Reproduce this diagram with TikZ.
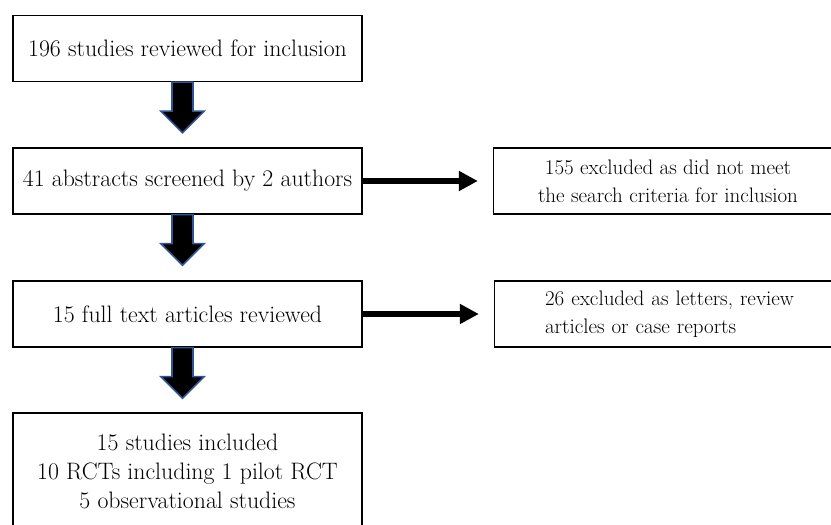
\documentclass[tikz,border=0pt]{standalone}
\usetikzlibrary{arrows.meta}
\definecolor{arrowblue}{RGB}{47,85,151}
\begin{document}
\begin{tikzpicture}[x=1pt,y=-1pt,
  box/.style={draw=black, line width=1.3pt, minimum width=349pt, minimum height=66pt,
    inner sep=0pt, align=center, font=\fontsize{23.8}{29}\selectfont},
  sidebox/.style={box, font=\fontsize{21}{28}\selectfont},
  downarrow/.style={fill=black, draw=arrowblue, line width=1.6pt, line join=miter},
  sidearrow/.style={line width=6.5pt, -{Triangle[length=19pt,width=19pt]}}]
\useasboundingbox (0,0) rectangle (831,525);
\fill[white] (0,0) rectangle (831,525);
\node[box] (b1) at (187.5,48.5) {196 studies reviewed for inclusion};
\node[box] (b2) at (187.5,181) {41 abstracts screened by 2 authors};
\node[box] (b3) at (187.5,314) {15 full text articles reviewed};
\node[box, minimum height=116pt] (b4) at (187.5,471) {15 studies included\\10 RCTs including 1 pilot RCT\\5 observational studies};
\node[sidebox] (r1) at (668,181) {155 excluded as did not meet\\the search criteria for inclusion};
\node[sidebox, text width=340pt, align=left] (r2) at (669,314) {\hspace*{46pt}26 excluded as letters, review\\\hspace*{46pt}articles or case reports};
\foreach \a/\b in {b1/b2, b2/b3, b3/b4}{
  \draw[downarrow] ([xshift=-5pt]\a.south) ++(-10.5,0) -- ++(0,29) -- ++(-11,0)
    -- ++(21.5,21.5) -- ++(21.5,-21.5) -- ++(-11,0) -- ++(0,-29) -- cycle;
}
\draw[sidearrow] (b2.east) -- ([xshift=-15pt]r1.west);
\draw[sidearrow] (b3.east) -- ([xshift=-15pt]r2.west);
\end{tikzpicture}
\end{document}
